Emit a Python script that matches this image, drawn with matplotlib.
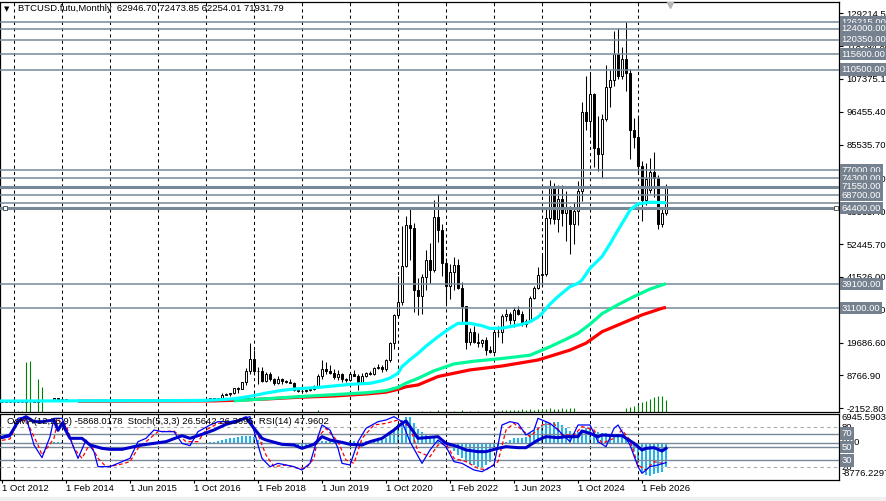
import matplotlib
matplotlib.use("Agg")
import matplotlib.pyplot as plt
from matplotlib.patches import Rectangle

plt.rcParams['font.family'] = ['Liberation Sans', 'DejaVu Sans']
plt.rcParams['font.size'] = 6.8

# monthly bars, index 0 = Oct 2012 ... 166 = Aug 2026
bar_open = [12.4, 11.2, 12.6,
            13.5, 20.4, 33.4, 93, 139, 129, 97, 106, 135, 133, 198, 1130,
            730, 810, 550, 450, 445, 630, 640, 585, 480, 385, 338, 378,
            320, 217, 254, 244, 236, 230, 263, 284, 230, 236, 314, 377,
            430, 368, 437, 416, 448, 531, 673, 624, 575, 609, 701, 742,
            963, 970, 1190, 1080, 1348, 2300, 2480, 2875, 4700, 4340, 6470, 10200,
            14150, 10220, 10330, 6930, 9240, 7500, 6400, 7730, 7030, 6630, 6310, 4020,
            3740, 3460, 3850, 4105, 5320, 8560, 10820, 10080, 9600, 8290, 9150, 7570,
            7190, 9350, 8540, 6440, 8650, 9460, 9140, 11350, 11650, 10780, 13800, 19700,
            28990, 33100, 45200, 58800, 57700, 37300, 35040, 41460, 47100, 43800, 61300, 57000,
            46300, 38500, 43200, 45500, 37700, 31800, 19900, 23300, 20050, 19430, 20500, 17170,
            16550, 23140, 23150, 28480, 29250, 27220, 30480, 29230, 25940, 26970, 34640, 37720,
            42280, 42580, 61130, 71300, 60640, 67500, 62700, 64600, 58970, 63300, 70200, 96400,
            93400, 102400, 84350, 82550, 94200, 104600, 107100, 115750, 108250, 114050, 109500, 90400,
            88200, 78300, 67000, 70500, 76500, 74300, 59000, 62946.70]
bar_high = [12.9, 12.6, 13.9,
            20.8, 33.4, 95, 266, 140, 130, 110, 135, 147, 215, 1163, 1150,
            1000, 830, 720, 550, 630, 680, 650, 600, 490, 415, 460, 385,
            322, 265, 300, 261, 248, 268, 315, 285, 245, 330, 502, 465,
            460, 441, 440, 468, 550, 780, 705, 628, 615, 740, 752, 975,
            1160, 1210, 1290, 1350, 2760, 2980, 2920, 4750, 4980, 6470, 11400, 19700,
            17200, 11700, 11700, 9750, 9990, 7750, 8500, 7760, 7400, 7680, 6550, 4240,
            4100, 4200, 4300, 5650, 9100, 13880, 13200, 12330, 10950, 10500, 9500, 7750,
            9580, 10500, 9190, 9470, 10070, 10400, 11450, 12480, 12100, 14100, 19900, 29300,
            41950, 58350, 61800, 64850, 59600, 41300, 42450, 50500, 52900, 67000, 69000, 59100,
            47990, 45800, 48200, 47450, 40000, 31900, 24650, 25200, 22800, 21000, 21450, 18400,
            23950, 25250, 29200, 31000, 29850, 31400, 31800, 30200, 27500, 35200, 38400, 44700,
            48970, 64000, 73800, 72800, 71950, 72000, 70000, 65100, 66500, 73600, 99800, 108300,
            109300, 102800, 95000, 95800, 111900, 110500, 123200, 124450, 117900, 126200, 110600, 94500,
            95000, 80000, 79500, 81000, 83000, 75500, 64800, 72473.85]
bar_low = [9.8, 10.6, 12.5,
           13.2, 19.1, 33.2, 50, 79, 88, 65, 101, 118, 108, 197, 450,
           730, 400, 440, 340, 420, 525, 565, 440, 365, 280, 310, 300,
           152, 210, 238, 214, 225, 217, 252, 195, 225, 236, 310, 345,
           350, 365, 400, 411, 436, 520, 480, 530, 568, 605, 680, 735,
           750, 915, 890, 1060, 1345, 2120, 1830, 2720, 2970, 4100, 5500, 9400,
           9000, 6000, 6600, 6430, 7050, 5750, 6060, 5880, 6100, 6200, 3550, 3200,
           3350, 3400, 3730, 4080, 5300, 7500, 9080, 9330, 7730, 7300, 6500, 6430,
           6870, 8430, 3850, 6150, 8120, 8900, 8980, 10980, 9850, 10400, 13200, 17600,
           28100, 32300, 45000, 47000, 30000, 28800, 29300, 37300, 39600, 43300, 53250, 42000,
           32900, 34300, 37200, 37600, 26700, 17600, 18800, 19600, 18150, 18200, 15500, 16300,
           16500, 21400, 19550, 26950, 25800, 24800, 28900, 25150, 24900, 26550, 34100, 37600,
           38500, 41900, 59300, 59100, 56500, 58400, 53500, 49000, 52500, 58900, 66800, 90500,
           89200, 78200, 76600, 74500, 93400, 98200, 105200, 107300, 107300, 103500, 80600, 84500,
           76000, 60000, 65500, 69500, 68000, 57500, 58000, 62254.01]
bar_close = [11.2, 12.6, 13.5,
             20.4, 33.4, 93, 139, 129, 97, 106, 135, 133, 198, 1130, 730,
             810, 550, 450, 445, 630, 640, 585, 480, 385, 338, 378, 320,
             217, 254, 244, 236, 230, 263, 284, 230, 236, 314, 377, 430,
             368, 437, 416, 448, 531, 673, 624, 575, 609, 701, 742, 963,
             970, 1190, 1080, 1348, 2300, 2480, 2875, 4700, 4340, 6470, 10200, 14150,
             10220, 10330, 6930, 9240, 7500, 6400, 7730, 7030, 6630, 6310, 4020, 3740,
             3460, 3850, 4105, 5320, 8560, 10820, 10080, 9600, 8290, 9150, 7570, 7190,
             9350, 8540, 6440, 8650, 9460, 9140, 11350, 11650, 10780, 13800, 19700, 28990,
             33100, 45200, 58800, 57700, 37300, 35040, 41460, 47100, 43800, 61300, 57000, 46300,
             38500, 43200, 45500, 37700, 31800, 19900, 23300, 20050, 19430, 20500, 17170, 16550,
             23140, 23150, 28480, 29250, 27220, 30480, 29230, 25940, 26970, 34640, 37720, 42280,
             42580, 61130, 71300, 60640, 67500, 62700, 64600, 58970, 63300, 70200, 96400, 93400,
             102400, 84350, 82550, 94200, 104600, 107100, 115750, 108250, 114050, 109500, 90400, 88200,
             78300, 67000, 74000, 76500, 74300, 59000, 62946.70, 71931.79]

# volumes (thousands) per month index
vol_month = [4, 5, 6, 7, 9, 10, 79,
             105, 107, 109, 111, 113, 115, 117, 119,
             123, 124, 125, 126, 127, 128, 129, 130, 131, 132, 133, 134, 135, 136,
             137, 138, 139, 140, 141, 142, 143,
             156, 157, 158, 159, 160, 161, 162, 163, 164, 165, 166]
vol_value = [1, 1, 50, 51, 33, 25, 1.5,
             1, 1, 1.5, 1, 1, 1.5, 1, 1,
             1, 1, 1.5, 1.5, 2, 2, 2, 2.5, 2, 2.5, 2, 3, 3, 3,
             3.5, 3, 3, 3.5, 3, 3.5, 3.5,
             4, 5, 6, 7, 10, 11, 12.5, 14.5, 16, 16, 12]

# moving averages
ma_fast_x = [-1, 10, 20, 30, 40, 50, 54, 58, 62, 66, 70, 73, 77, 80, 84, 87, 92, 95, 97, 99,
             100, 102, 104, 106, 109, 112, 114, 117, 120, 122, 125, 127, 130, 132, 134, 135,
             137, 139, 142, 144, 145, 147, 150, 152, 154, 156, 157, 159, 162, 166]
ma_fast_y = [250, 280, 330, 370, 380, 450, 650, 1000, 1800, 2900, 3800, 4250, 4600, 4900,
             5400, 5800, 6150, 7000, 7900, 9500, 11700, 14000, 16100, 18500, 21650, 24500,
             26100, 26100, 25300, 24400, 24500, 25000, 25800, 26600, 28200, 29400, 32500,
             35000, 38300, 39400, 40500, 44400, 48300, 52500, 57100, 61500, 63800, 65800,
             66400, 66200]
ma_mid_x = [58, 66, 74, 82, 91, 96, 99, 101, 104, 108, 113, 118, 125, 132, 137, 141, 144,
            147, 150, 154, 158, 162, 166]
ma_mid_y = [350, 1000, 1700, 2300, 3000, 3700, 4800, 6200, 7800, 10300, 12600, 13500, 14400,
            15500, 18300, 20800, 22800, 25800, 29300, 32300, 35000, 37500, 39300]
ma_slow_x = [19, 40, 53, 58, 66, 74, 83, 91, 96, 99, 101, 104, 109, 113, 117, 125, 134, 142,
             146, 150, 155, 160, 165, 166]
ma_slow_y = [200, 250, 300, 500, 930, 1500, 1930, 2600, 3200, 4150, 5000, 5600, 8400, 9500,
             10600, 11900, 13900, 17200, 19500, 23300, 26100, 28900, 31100, 31400]

# horizontal levels
levels = [126215, 124000, 120350, 115600, 110500, 77000, 74300, 71550, 68700, 64400, 39100, 31100]
thick_levels = [71550, 64400]
extra_levels = [66000]

price_ticks = [129214.50, 118294.80, 107375.10, 96455.40, 85535.70, 74285.10, 63365.40,
               52445.70, 41526.00, 30606.30, 19686.60, 8766.90, -2152.80]

# oscillators
osma = [0] * 13 + [200, 250, 150] + [0] * 36 + [
    100, 250, 400, 600, 800, 1000, 1200, 1400, 1550, 1650, 1600, 1300, 700, 200,
    -100, -250, -350, -450, -550, -650, -750, -850, -900, -900, -800, -600, -300,
    100, 350, 450, 500, 450, 400, 300, 250, 300, 350, 250, 250, 300, 350, 400, 500,
    650, 1000, 1800, 3000, 4400, 5400, 6000, 6200, 4600, 3300, 2600, 1900, 1450, 1200,
    700, 250, -200, -1300, -2100, -2900, -3700, -4500, -5200, -5400, -5700, -5700,
    -5300, -4500, -2100, -900, -100, 250, 650, 1000, 1200, 1000, 1450, 2200, 3000,
    3800, 4200, 5000, 4600, 5000, 5000, 4200, 3400, 2800, 2200, 2600, 3000, 3400,
    3250, 2800, 2600, 2200, 2200, 1800, 1800, 1650, 1650, 1000, -550, -2100, -4900,
    -6900, -7700, -7850, -7500, -7300, -6900, -5868]

rsi_x = [0, 2, 4, 6, 8, 10, 13, 14, 15, 17, 20, 22, 25, 27, 30, 33, 35, 38, 41, 45, 47, 50,
         53, 56, 59, 61, 63, 65, 66, 70, 73, 75, 78, 80, 82, 85, 87, 90, 92, 95, 98, 100,
         101, 102, 104, 106, 109, 111, 114, 116, 119, 121, 124, 126, 129, 131, 134, 136,
         139, 141, 144, 145, 147, 149, 150, 153, 155, 158, 160, 161, 163, 165, 166]
rsi_y = [64.5, 68, 88, 95.5, 88, 88, 90.5, 75, 85.5, 63, 63, 53, 48, 46.5, 46.5, 50.5, 53,
         55.5, 58, 67, 63, 69, 75.5, 84, 89, 94, 78, 63, 60.5, 54, 53, 48, 54, 65.5, 60.5,
         57, 54, 53, 58, 63, 75.5, 85.5, 89, 80.5, 63, 64, 65.5, 55.5, 50.5, 45.5, 43, 43,
         48, 50.5, 49, 49, 60.5, 65.5, 64, 65.5, 65.5, 74, 70.5, 65.5, 68, 67, 67, 55.5,
         45.5, 48, 49, 44, 47.96]

stoch_x = [0, 2, 4, 6, 8, 10, 12, 13, 15, 17, 19, 21, 23, 24, 27, 29, 32, 34, 36, 38, 40,
           43, 45, 47, 49, 52, 54, 57, 59, 62, 64, 65, 67, 69, 71, 73, 75, 77, 79, 80, 82,
           84, 85, 87, 89, 91, 94, 96, 98, 100, 102, 105, 107, 109, 111, 113, 115, 118,
           120, 123, 125, 127, 129, 131, 133, 134, 137, 139, 142, 144, 147, 149, 151, 153,
           154, 157, 159, 160, 162, 164, 166]
stoch_y = [63, 65.5, 93, 95.5, 53, 34, 65.5, 93, 93, 63, 33, 60.5, 43, 20.5, 20.5, 25.5,
           33, 58, 63, 75.5, 73, 73, 55.5, 52, 73, 83, 88, 88, 90.5, 95.5, 53, 33, 20.5,
           25.5, 23, 20.5, 15.5, 25.5, 65.5, 83, 75.5, 48, 25.5, 23, 58, 78, 88, 90.5, 95.5,
           88, 58, 25.5, 45.5, 60.5, 50.5, 28, 25.5, 15.5, 13, 23, 83, 88, 85.5, 68, 75.5,
           93, 85.5, 75.5, 58, 83, 83, 58, 50.5, 78, 83, 53, 20.5, 10.5, 20.5, 23, 26.56]
signal_x = [0, 2, 4, 6, 9, 10, 13, 14, 16, 18, 20, 22, 24, 26, 29, 32, 34, 37, 39, 43, 46,
            49, 51, 54, 58, 61, 64, 66, 68, 71, 74, 76, 78, 79, 81, 84, 86, 88, 90, 93, 96,
            99, 102, 104, 107, 109, 111, 113, 116, 119, 121, 124, 126, 128, 130, 132, 135,
            138, 140, 143, 145, 148, 150, 153, 155, 157, 159, 161, 163, 165, 166]
signal_y = [60, 62, 88, 90.5, 53, 38, 63, 90.5, 83, 48, 33, 55.5, 33, 20.5, 23, 28, 48, 63,
            73, 74, 58, 58, 75.5, 85.5, 88, 93, 68, 38, 20.5, 23, 18, 18, 33, 65.5, 78, 58,
            30.5, 25.5, 63, 83, 85.5, 90.5, 80.5, 43, 35.5, 53, 55.5, 33, 28, 18, 15.5, 28,
            75.5, 85.5, 75.5, 65.5, 83, 85.5, 68, 68, 80.5, 75.5, 55.5, 63, 75.5, 60.5, 23,
            15.5, 28, 25.5, 26.4]

date_ticks = [0, 16, 32, 48, 64, 80, 96, 112, 128, 144, 160]
date_labels = ['1 Oct 2012', '1 Feb 2014', '1 Jun 2015', '1 Oct 2016', '1 Feb 2018',
               '1 Jun 2019', '1 Oct 2020', '1 Feb 2022', '1 Jun 2023', '1 Oct 2024',
               '1 Feb 2026']
january_months = list(range(3, 167, 12))

# ---------------------------------------------------------------------------
W, H = 887, 501
fig = plt.figure(figsize=(W / 100, H / 100), dpi=100)


def px_box(left, top, right, bottom):
    return [left / W, 1 - bottom / H, (right - left) / W, (bottom - top) / H]


ax = fig.add_axes(px_box(0.5, 1.5, 839.5, 411.5))
axo = fig.add_axes(px_box(0.5, 413.5, 839.5, 479.5), sharex=ax)
ax2 = fig.add_axes(px_box(0.5, 413.5, 839.5, 479.5), sharex=ax)
ax2.patch.set_visible(False)
axo.set_zorder(1)
ax2.set_zorder(2)

ax.set_xlim(-0.375, 209.375)
ax.set_ylim(-3227, 133139)
ax2.set_ylim(1.25, 100.25)
axo.set_ylim(-8776.2297, 6945.5903)

grid_color = 'black'
slate = '#778899'
box_fc = '#76818f'

for a in (ax, ax2):
    for m in january_months:
        a.axvline(m, color=grid_color, lw=0.75, ls=(0, (3, 3)), zorder=1)

# volumes
ax.vlines(vol_month, 0, [v / 410 for v in vol_value], transform=ax.get_xaxis_transform(),
          color='#008000', lw=0.8, zorder=2)

# candles
months = list(range(len(bar_close)))
ax.vlines(months, bar_low, bar_high, color='black', lw=0.75, zorder=3)
bottoms = [min(o, c) for o, c in zip(bar_open, bar_close)]
heights = [abs(c - o) for o, c in zip(bar_open, bar_close)]
fills = ['white' if c >= o else 'black' for o, c in zip(bar_open, bar_close)]
ax.bar(months, heights, width=0.7, bottom=bottoms, color=fills, edgecolor='black',
       linewidth=0.7, zorder=4)

# levels
for v in levels + extra_levels:
    ax.axhline(v, color=slate, lw=2.2 if v in thick_levels else 1.1, zorder=5)

# moving averages
ax.plot(ma_slow_x, ma_slow_y, color='#ff0000', lw=2.3, zorder=6, solid_capstyle='butt')
ax.plot(ma_mid_x, ma_mid_y, color='#00fa9a', lw=2.3, zorder=7, solid_capstyle='butt')
ax.plot(ma_fast_x, ma_fast_y, color='#00ffff', lw=2.3, zorder=8, solid_capstyle='butt')

# selection handles and shift marker
ax.plot([0.75, 208.6], [64400, 64400], 's', ms=3.2, mfc='white', mec='#555555', mew=0.7,
        zorder=9, clip_on=False)
ax.plot([167], [0.992], 'v', ms=5, color='#b8b8b8', transform=ax.get_xaxis_transform(),
        zorder=9)

# right price axis
ax.yaxis.tick_right()
ax.set_yticks(price_ticks)
ax.set_yticklabels([f'{t:.2f}' for t in price_ticks])
ax.tick_params(axis='y', length=3, width=0.8, pad=2, labelsize=6.8, colors='black')
ax.tick_params(axis='x', bottom=False, labelbottom=False)

for v in levels:
    ax.annotate(f'{v:.2f}', xy=(1, v), xycoords=('axes fraction', 'data'),
                xytext=(1.4, 0), textcoords='offset points', ha='left', va='center',
                color='white', fontsize=6.8, annotation_clip=False, zorder=20,
                bbox=dict(boxstyle='square,pad=0.18', fc=box_fc, ec='none'))

ax.text(0.004, 0.982, '▼', transform=ax.transAxes, fontsize=5, va='center', ha='left',
        family=['DejaVu Sans'])
ax.text(0.021, 0.982, 'BTCUSD.futu,Monthly  62946.70 72473.85 62254.01 71931.79',
        transform=ax.transAxes, fontsize=6.8, va='center', ha='left')

# lower panel
axo.bar(months, osma, width=0.5, color='#1fb6ef', zorder=2)
axo.axhline(0, color=slate, lw=1.0, zorder=3)
for lv in (70, 50, 30):
    ax2.axhline(lv, color=slate, lw=1.0, zorder=3)
for lv in (80, 20):
    ax2.axhline(lv, color='#a9a9a9', lw=0.8, ls=(0, (3, 3)), zorder=3)
ax2.plot(signal_x, signal_y, color='#ff0000', lw=0.9, ls=(0, (3, 2)), zorder=4)
ax2.plot(stoch_x, stoch_y, color='#0000ff', lw=0.9, zorder=5)
ax2.plot(rsi_x, rsi_y, color='#0000cd', lw=2.2, zorder=6)

ax2.text(0.008, 0.88, 'OsMA(12,26,9) -5868.0178  Stoch(5,3,3) 26.5642 26.3695  RSI(14) 47.9602',
         transform=ax2.transAxes, fontsize=6.8, va='center', ha='left', zorder=7)

for a in (axo, ax2):
    a.tick_params(axis='y', left=False, right=False, labelleft=False, labelright=False)
axo.tick_params(axis='x', bottom=False, labelbottom=False)
ax2.set_xticks(date_ticks)
ax2.set_xticklabels(date_labels, ha='left')
ax2.tick_params(axis='x', length=2, width=0.8, pad=1.5, labelsize=6.8)

axo.annotate('6945.5903', xy=(1, 1), xycoords='axes fraction', xytext=(1.4, 0),
             textcoords='offset points', ha='left', va='top', fontsize=6.8,
             annotation_clip=False)
axo.annotate('-8776.2297', xy=(1, 0), xycoords='axes fraction', xytext=(1.4, 1),
             textcoords='offset points', ha='left', va='bottom', fontsize=6.8,
             annotation_clip=False)
axo.annotate('0.00', xy=(1, 0), xycoords=('axes fraction', 'data'), xytext=(1.4, 0),
             textcoords='offset points', ha='left', va='center', fontsize=6.8,
             annotation_clip=False)
for lv in (80, 20):
    ax2.annotate(str(lv), xy=(1, lv), xycoords=('axes fraction', 'data'), xytext=(1.4, 0),
                 textcoords='offset points', ha='left', va='center', fontsize=6.8,
                 annotation_clip=False)
for lv in (70, 50, 30):
    ax2.annotate(str(lv), xy=(1, lv), xycoords=('axes fraction', 'data'), xytext=(1.4, 0),
                 textcoords='offset points', ha='left', va='center', fontsize=6.8,
                 color='white', annotation_clip=False, zorder=20,
                 bbox=dict(boxstyle='square,pad=0.18', fc=box_fc, ec='none'))

for a in (ax, ax2):
    for s in a.spines.values():
        s.set_color('black')
        s.set_linewidth(0.9)
for s in axo.spines.values():
    s.set_visible(False)

fig.patches.append(Rectangle((0, 0), 1, 4 / H, transform=fig.transFigure,
                             fc='#f0f0f0', ec='none'))

fig.savefig('out.png', dpi=100)
